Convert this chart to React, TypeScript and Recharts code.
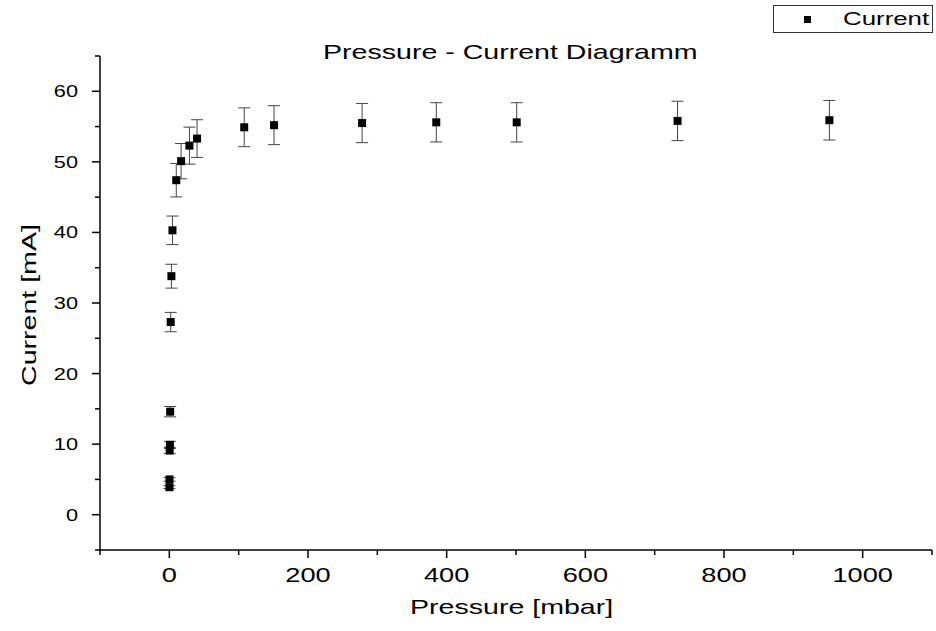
import React from 'react';
import {
  ScatterChart, Scatter, XAxis, YAxis, ErrorBar,
} from 'recharts';

const pressure = [0.1, 0.2, 0.5, 0.8, 1.2, 2, 3, 4.5, 10, 17, 29, 40, 108, 151, 278, 385, 501, 733, 952];
const current = [3.9, 5.0, 9.1, 9.9, 14.6, 27.3, 33.8, 40.3, 47.4, 50.1, 52.3, 53.3, 54.9, 55.2, 55.5, 55.6, 55.6, 55.8, 55.9];
const currentErr = [0.2, 0.25, 0.45, 0.5, 0.73, 1.37, 1.69, 2.02, 2.37, 2.5, 2.62, 2.67, 2.75, 2.76, 2.78, 2.78, 2.78, 2.79, 2.8];

const xTicks = [-100, 0, 100, 200, 300, 400, 500, 600, 700, 800, 900, 1000, 1100];
const xLabels = [0, 200, 400, 600, 800, 1000];
const yTicks = [-5, 0, 5, 10, 15, 20, 25, 30, 35, 40, 45, 50, 55, 60, 65];
const yLabels = [0, 10, 20, 30, 40, 50, 60];

const data = pressure.map((p, i) => ({ p, c: current[i], err: currentErr[i] }));

const FONT = '"Liberation Sans", Arial, sans-serif';
const STRETCH = 1.36;

function XTick(props: any) {
  const { x, y, payload } = props;
  const v = payload.value;
  const major = xLabels.includes(v);
  return (
    <g>
      <line x1={x} x2={x} y1={y} y2={y + (major ? 8 : 5)} stroke="#000" strokeWidth={1.5} />
      {major && (
        <text
          transform={`translate(${x},${y + 32}) scale(${STRETCH},1)`}
          textAnchor="middle"
          fontFamily={FONT}
          fontSize={20}
          fill="#000"
        >
          {v}
        </text>
      )}
    </g>
  );
}

function YTick(props: any) {
  const { x, y, payload } = props;
  const v = payload.value;
  const major = yLabels.includes(v);
  return (
    <g>
      <line x1={x} x2={x - (major ? 8 : 5)} y1={y} y2={y} stroke="#000" strokeWidth={1.5} />
      {major && (
        <text
          transform={`translate(${x - 22},${y + 6}) scale(${STRETCH},1)`}
          textAnchor="end"
          fontFamily={FONT}
          fontSize={16}
          fill="#000"
        >
          {v}
        </text>
      )}
    </g>
  );
}

function SquareDot(props: any) {
  const { cx, cy } = props;
  return <rect x={cx - 4} y={cy - 4} width={8} height={8} fill="#000" />;
}

function LegendBox() {
  return (
    <div style={{
      position: 'absolute', left: 773, top: 5, width: 158, height: 26,
      border: '1px solid #333', background: '#fff',
    }}>
      <div style={{ position: 'absolute', left: 30, top: 10, width: 7, height: 7, background: '#000' }} />
      <div style={{
        position: 'absolute', left: 69, top: 2, fontFamily: FONT, fontSize: 19, whiteSpace: 'nowrap',
        transform: `scale(${STRETCH},1)`, transformOrigin: 'left top', color: '#000',
      }}>
        Current
      </div>
    </div>
  );
}

export default function App() {
  return (
    <div style={{ position: 'absolute', left: 0, top: 0, width: 936, height: 631, background: '#fff' }}>
      <ScatterChart width={936} height={631} margin={{ top: 56, right: 4, bottom: 21, left: 40 }}>
        <XAxis
          type="number"
          dataKey="p"
          domain={[-100, 1100]}
          ticks={xTicks}
          interval={0}
          tickSize={0}
          tickMargin={0}
          tickLine={false}
          tick={<XTick />}
          height={60}
          axisLine={{ stroke: '#000', strokeWidth: 1.5 }}
          allowDataOverflow
        />
        <YAxis
          type="number"
          dataKey="c"
          domain={[-5, 65]}
          ticks={yTicks}
          interval={0}
          tickSize={0}
          tickMargin={0}
          tickLine={false}
          tick={<YTick />}
          width={60}
          axisLine={{ stroke: '#000', strokeWidth: 1.5 }}
          allowDataOverflow
        />
        <Scatter name="Current" data={data} shape={<SquareDot />} isAnimationActive={false}>
          <ErrorBar dataKey="err" direction="y" width={6} stroke="#444" strokeWidth={1} isAnimationActive={false} />
        </Scatter>
      </ScatterChart>
      <LegendBox />
      <div style={{
        position: 'absolute', left: 323, top: 40, fontFamily: FONT, fontSize: 21, color: '#000',
        transform: `scale(${STRETCH},1)`, transformOrigin: 'left top', whiteSpace: 'nowrap',
      }}>
        Pressure - Current Diagramm
      </div>
      <div style={{
        position: 'absolute', left: 410, top: 595, fontFamily: FONT, fontSize: 21, color: '#000',
        transform: `scale(${STRETCH},1)`, transformOrigin: 'left top', whiteSpace: 'nowrap',
      }}>
        Pressure [mbar]
      </div>
      <div style={{
        position: 'absolute', left: 17, top: 386, fontFamily: FONT, fontSize: 21, color: '#000',
        transform: `rotate(-90deg) scale(${STRETCH},1)`, transformOrigin: 'left top', whiteSpace: 'nowrap',
      }}>
        Current [mA]
      </div>
    </div>
  );
}
